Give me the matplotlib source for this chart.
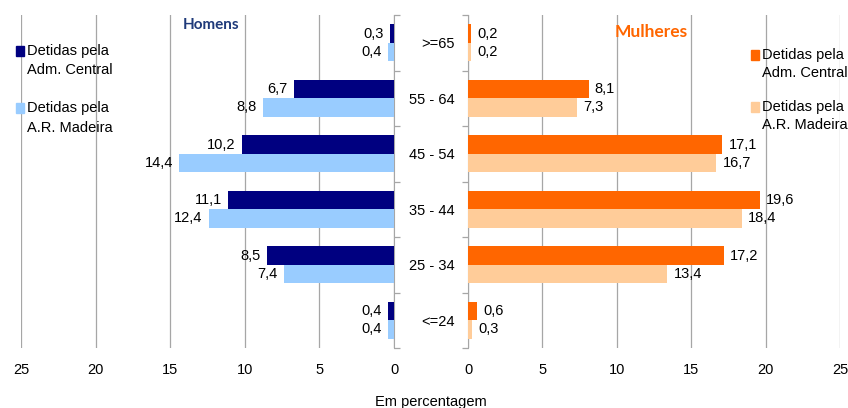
import numpy as np
import matplotlib
matplotlib.use("Agg")
from matplotlib import pyplot as plt
from matplotlib.patches import Rectangle

plt.rcParams['font.family'] = ['Liberation Sans', 'DejaVu Sans']

# age groups, top to bottom
grupos = ['>=65', '55 - 64', '45 - 54', '35 - 44', '25 - 34', '<=24']

homens_central = [0.3, 6.7, 10.2, 11.1, 8.5, 0.4]
homens_madeira = [0.4, 8.8, 14.4, 12.4, 7.4, 0.4]
mulheres_central = [0.2, 8.1, 17.1, 19.6, 17.2, 0.6]
mulheres_madeira = [0.2, 7.3, 16.7, 18.4, 13.4, 0.3]

ticks = [0, 5, 10, 15, 20, 25]
serie1 = ['Detidas pela', 'Adm. Central']
serie2 = ['Detidas pela', 'A.R. Madeira']

grid_col = '#A6A6A6'
fs = 10.5
W, H = 848, 408

fig = plt.figure(figsize=(8.48, 4.08), dpi=100)
axL = fig.add_axes([21 / W, 1 - 348 / H, 373 / W, 333 / H])
axR = fig.add_axes([468 / W, 1 - 348 / H, 372 / W, 333 / H])

y = np.arange(len(grupos))
h = 0.333


def fmt(v):
    return ('%.1f' % v).replace('.', ',')


def panel(ax, v1, v2, c1, c2, side):
    b1 = ax.barh(y - h / 2, v1, height=h, color=c1, zorder=3)
    b2 = ax.barh(y + h / 2, v2, height=h, color=c2, zorder=3)
    for yy, vals in ((y - h / 2, v1), (y + h / 2, v2)):
        for yi, v in zip(yy, vals):
            ax.annotate(fmt(v), (v, yi), xytext=(4.5 * side, 0), textcoords='offset points',
                        ha='left' if side > 0 else 'right', va='center', fontsize=fs)
    ax.set_ylim(len(grupos) - 0.5, -0.5)
    ax.set_xlim(0, 25)
    ax.set_xticks(ticks)
    ax.set_xticklabels([str(t) for t in ticks], fontsize=fs)
    ax.tick_params(axis='x', length=0, pad=11)
    ax.grid(axis='x', color=grid_col, linewidth=0.9, zorder=0)
    for s in ax.spines.values():
        s.set_visible(False)
    return b1, b2


b1, b2 = panel(axL, homens_central, homens_madeira, '#000080', '#99CCFF', -1)
axL.invert_xaxis()
axL.spines['right'].set_visible(True)
axL.spines['right'].set_color(grid_col)
axL.yaxis.tick_right()
axL.set_yticks([])
axL.set_yticks(np.arange(len(grupos) + 1) - 0.5, minor=True)
axL.tick_params(axis='y', which='minor', length=4, color=grid_col, width=0.9)
axL.set_ylim(len(grupos) - 0.5, -0.5)

b3, b4 = panel(axR, mulheres_central, mulheres_madeira, '#FF6600', '#FFCC99', 1)
axR.spines['left'].set_visible(True)
axR.spines['left'].set_color(grid_col)
axR.set_yticks(y)
axR.set_yticklabels(grupos, fontsize=fs)
axR.tick_params(axis='y', which='major', length=0, pad=9.5)
axR.set_yticks(np.arange(len(grupos) + 1) - 0.5, minor=True)
axR.tick_params(axis='y', which='minor', length=4, color=grid_col, width=0.9)

axL.text(0.509, 0.97, 'Homens', transform=axL.transAxes, ha='center', va='center',
         fontsize=11, fontweight='bold', color='#1F3A7A', family='Lato')
axR.text(0.492, 0.949, 'Mulheres', transform=axR.transAxes, ha='center', va='center',
         fontsize=12.5, fontweight='bold', color='#FF6600', family='Lato')


def legend_item(x, ys, label, color):
    fig.patches.append(Rectangle((x / W, 1 - (ys[0] + 5) / H), 8 / W, 10 / H,
                                 transform=fig.transFigure, color=color))
    for line, yy in zip(label, ys):
        fig.text((x + 11) / W, 1 - yy / H, line, ha='left', va='center', fontsize=fs)


legend_item(16, (51, 70), serie1, '#000080')
legend_item(16, (108, 128), serie2, '#99CCFF')
legend_item(751, (55, 73), serie1, '#FF6600')
legend_item(751, (107, 125), serie2, '#FFCC99')

fig.text(431 / W, 1 - 402 / H, 'Em percentagem', ha='center', va='center', fontsize=fs)

fig.savefig('out.png', dpi=100)
